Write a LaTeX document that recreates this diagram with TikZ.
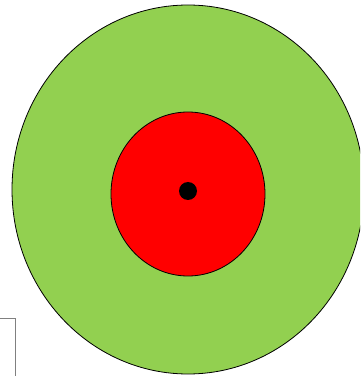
\documentclass[tikz,border=0pt]{standalone}
\usepackage{xcolor}
\usepackage{tikz}
\definecolor{targetgreen}{HTML}{92D050}

\begin{document}
\begin{tikzpicture}[x=1pt,y=1pt,
    ring/.style={draw=black,line width=0.8pt},
    frame/.style={draw=gray,line width=0.8pt}]
  \useasboundingbox (0,0) rectangle (360,376);
  \clip (0,0) rectangle (360,376);
  \draw[frame] (-5,-5) rectangle (15,57.5);
  \filldraw[ring,fill=targetgreen] (188,186.5) ellipse [x radius=176,y radius=184.5];
  \filldraw[ring,fill=red] (188,182) ellipse [x radius=77,y radius=82];
  \fill[black] (188,185) circle [radius=9];
\end{tikzpicture}
\end{document}
